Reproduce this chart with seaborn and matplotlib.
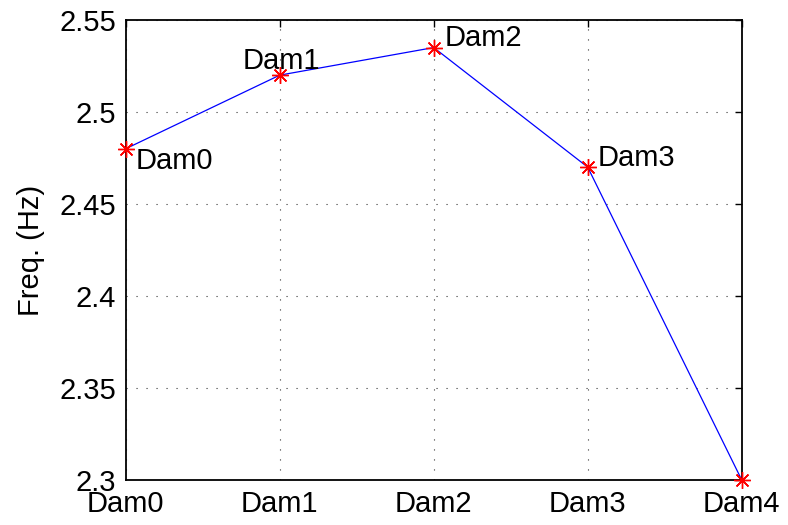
import matplotlib
matplotlib.use("Agg")
import matplotlib.pyplot as plt
import seaborn as sns
import pandas as pd

categories = ["Dam0", "Dam1", "Dam2", "Dam3", "Dam4"]
freq = [2.48, 2.52, 2.535, 2.47, 2.30]
point_labels = ["Dam0", "Dam1", "Dam2", "Dam3", ""]
yticks = [2.3, 2.35, 2.4, 2.45, 2.5, 2.55]
ytick_labels = ["2.3", "2.35", "2.4", "2.45", "2.5", "2.55"]

sns.set_theme(style="white")
plt.rcParams['font.family'] = ['Liberation Sans', 'DejaVu Sans']

FS = 21
fig = plt.figure(figsize=(7.88, 5.25), dpi=100)
ax = fig.add_axes([0.1595, 0.0857, 0.7818, 0.8763])

df = pd.DataFrame({"x": list(range(len(categories))), "freq": freq})
sns.lineplot(data=df, x="x", y="freq", ax=ax, color="blue", linewidth=0.9,
             marker=(8, 2, 0), markersize=12, markeredgecolor="red",
             markerfacecolor="red", markeredgewidth=1.0, clip_on=False, zorder=3)

offsets = [(7.2, -14.4), (-26.6, 4.3), (7.9, 1.4), (7.2, 0.7), (0, 0)]
for i, (lab, (dx, dy)) in enumerate(zip(point_labels, offsets)):
    if lab:
        ax.annotate(lab, (i, freq[i]), xytext=(dx, dy), textcoords="offset points",
                    ha="left", va="baseline", fontsize=FS, color="black")

ax.set_xlim(0, 4)
ax.set_ylim(2.3, 2.55)
ax.set_xticks(range(len(categories)))
ax.set_xticklabels(categories)
ax.set_yticks(yticks)
ax.set_yticklabels(ytick_labels)
ax.set_xlabel("")
ax.set_ylabel("Freq. (Hz)", fontsize=FS, labelpad=10, color="black")
ax.tick_params(axis="both", direction="in", length=5, width=1, labelsize=FS,
               colors="black", top=True, right=True)
ax.tick_params(axis="x", pad=7)
ax.tick_params(axis="y", pad=7)
ax.grid(True, linestyle=(0, (1, 8)), color="black", linewidth=0.8, alpha=0.8)
for s in ax.spines.values():
    s.set_color("black")
    s.set_linewidth(1.3)

fig.savefig("out.png", dpi=100)
